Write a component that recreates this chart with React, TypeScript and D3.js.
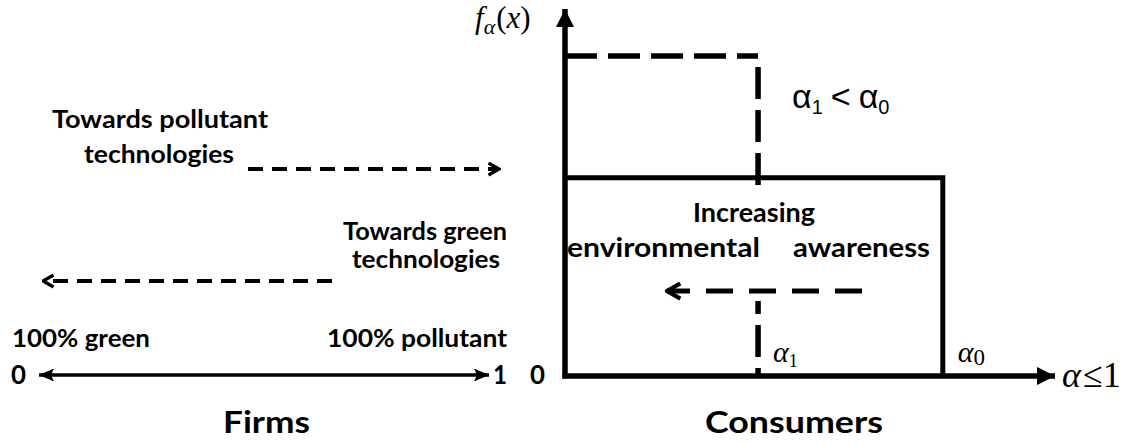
import { useEffect, useRef } from 'react';
import * as d3 from 'd3';

// consumer side: thresholds on the alpha axis and density heights
const alphaLabels = ['α0', 'α1'];
const alphaValues = [0.771, 0.394];
const densityValues = [0.54, 0.872];

// firm side: ends of the technology axis
const firmTicks = ['0', '1'];
const firmEndLabels = ['100% green', '100% pollutant'];

const SANS = 'Lato, "Open Sans", sans-serif';
const SERIF = '"Liberation Serif", "DejaVu Serif", serif';

function App() {
  const svgRef = useRef<SVGSVGElement>(null);

  useEffect(() => {
    if (!svgRef.current) return;
    const svg = d3.select(svgRef.current);
    svg.selectAll('*').remove();

    svg.attr('width', 1130).attr('height', 444);

    const x = d3.scaleLinear().domain([0, 1]).range([565, 1055]);
    const y = d3.scaleLinear().domain([0, 1]).range([376, 9]);
    const fx = d3.scaleLinear().domain([0, 1]).range([37, 491]);
    const line = d3.line<[number, number]>();

    // markers
    const defs = svg.append('defs');
    defs.append('marker')
      .attr('id', 'tri')
      .attr('viewBox', '0 0 10 10')
      .attr('refX', 10).attr('refY', 5)
      .attr('markerWidth', 18).attr('markerHeight', 18)
      .attr('markerUnits', 'userSpaceOnUse')
      .attr('orient', 'auto-start-reverse')
      .append('path').attr('d', 'M0,0 L10,5 L0,10 z').attr('fill', '#000');
    defs.append('marker')
      .attr('id', 'triSmall')
      .attr('viewBox', '0 0 10 10')
      .attr('refX', 10).attr('refY', 5)
      .attr('markerWidth', 15).attr('markerHeight', 13)
      .attr('markerUnits', 'userSpaceOnUse')
      .attr('orient', 'auto-start-reverse')
      .attr('preserveAspectRatio', 'none')
      .append('path').attr('d', 'M0,0 L10,5 L0,10 L2,5 z').attr('fill', '#000');
    const chevron = (id: string, size: number) => {
      defs.append('marker')
        .attr('id', id)
        .attr('viewBox', '0 0 10 10')
        .attr('refX', 9).attr('refY', 5)
        .attr('markerWidth', size).attr('markerHeight', size)
        .attr('markerUnits', 'userSpaceOnUse')
        .attr('orient', 'auto')
        .append('path').attr('d', 'M2,1 L9,5 L2,9')
        .attr('fill', 'none').attr('stroke', '#000').attr('stroke-width', 2.2);
    };
    chevron('chev', 15);
    chevron('chevBig', 19);

    const g = svg.append('g');

    // bold sans label fitted between x0 and x1
    const label = (txt: string, x0: number, x1: number, base: number, size: number) => {
      g.append('text')
        .attr('x', x0).attr('y', base)
        .attr('font-family', SANS).attr('font-weight', 700).attr('font-size', size)
        .attr('textLength', x1 - x0)
        .attr('lengthAdjust', 'spacingAndGlyphs')
        .text(txt);
    };

    // ---------- Firms ----------
    g.append('path')
      .attr('d', line([[fx(0) + 2, 375], [fx(1) - 2, 375]]))
      .attr('stroke', '#000').attr('stroke-width', 3.5)
      .attr('marker-start', 'url(#triSmall)')
      .attr('marker-end', 'url(#triSmall)');

    label(firmTicks[0], 11, 26, 384, 26);
    label(firmTicks[1], 493, 507, 384, 26);
    label(firmEndLabels[0], 12, 150, 347, 25);
    label(firmEndLabels[1], 327, 507, 347, 25);

    label('Towards pollutant', 52, 268, 128, 25);
    label('technologies', 84, 234, 163, 25);
    label('Towards green', 343, 507, 240, 25);
    label('technologies', 352, 500, 268, 25);

    g.append('path')
      .attr('d', line([[248, 169], [fx(1) + 8, 169]]))
      .attr('stroke', '#000').attr('stroke-width', 4)
      .attr('stroke-dasharray', '15 9')
      .attr('fill', 'none')
      .attr('marker-end', 'url(#chev)');
    g.append('path')
      .attr('d', line([[332, 281], [fx(0) + 6, 281]]))
      .attr('stroke', '#000').attr('stroke-width', 4)
      .attr('stroke-dasharray', '15 9')
      .attr('fill', 'none')
      .attr('marker-end', 'url(#chev)');

    label('Firms', 223, 310, 433, 31);

    // ---------- Consumers ----------
    const [a0, a1] = alphaValues;
    const [f0, f1] = densityValues;

    // alpha1 density (dashed)
    g.append('path')
      .attr('d', line([[x(0), y(f1)], [x(a1), y(f1)]]))
      .attr('fill', 'none').attr('stroke', '#000').attr('stroke-width', 5.5)
      .attr('stroke-dasharray', '32 11');
    g.append('path')
      .attr('d', line([[x(a1), y(f1)], [x(a1), y(0)]]))
      .attr('fill', 'none').attr('stroke', '#000').attr('stroke-width', 5.5)
      .attr('stroke-dasharray', '32 11')
      .attr('stroke-dashoffset', 32);

    // alpha0 density (solid)
    g.append('path')
      .attr('d', line([[x(0), y(f0)], [x(a0), y(f0)], [x(a0), y(0)]]))
      .attr('fill', 'none').attr('stroke', '#000').attr('stroke-width', 5);

    // axes
    g.append('path')
      .attr('d', line([[x(0), y(0) + 2.5], [x(0), y(1)]]))
      .attr('stroke', '#000').attr('stroke-width', 5.5)
      .attr('marker-end', 'url(#tri)');
    g.append('path')
      .attr('d', line([[x(0) - 2.5, y(0)], [x(1), y(0)]]))
      .attr('stroke', '#000').attr('stroke-width', 5.5)
      .attr('marker-end', 'url(#tri)');

    // white box behind the awareness text
    g.append('rect')
      .attr('x', 572).attr('y', 189)
      .attr('width', 362).attr('height', 112)
      .attr('fill', '#fff');

    // awareness arrow
    g.append('path')
      .attr('d', line([[862, 291], [667, 291]]))
      .attr('fill', 'none').attr('stroke', '#000').attr('stroke-width', 5)
      .attr('stroke-dasharray', '27 16')
      .attr('marker-end', 'url(#chevBig)');

    label('Increasing', 693, 815, 222, 27);
    label('environmental', 567, 760, 257, 27);
    label('awareness', 793, 930, 257, 27);

    label('0', 530, 545, 384, 26);

    // alpha labels
    alphaLabels.forEach((lab, i) => {
      const t = g.append('text')
        .attr('x', x(alphaValues[i]) + 15)
        .attr('y', 362)
        .attr('font-family', SERIF).attr('font-size', 30);
      t.append('tspan').attr('font-style', 'italic').text('α');
      t.append('tspan').attr('font-size', i === 0 ? 23 : 18)
        .attr('dy', i === 0 ? 3 : 5).text(lab.slice(1));
    });

    // alpha <= 1
    g.append('text')
      .attr('x', 1062).attr('y', 387)
      .attr('font-family', SERIF).attr('font-size', 36)
      .call(t => {
        t.append('tspan').attr('font-style', 'italic').text('α');
        t.append('tspan').attr('dx', 2).text('≤1');
      });

    // f_alpha(x)
    g.append('text')
      .attr('x', 475).attr('y', 28)
      .attr('font-family', SERIF).attr('font-size', 31)
      .call(t => {
        t.append('tspan').attr('font-style', 'italic').text('f');
        t.append('tspan').attr('font-style', 'italic').attr('font-size', 22).attr('dy', 6).text('α');
        t.append('tspan').attr('dy', -6).attr('dx', 1).text('(');
        t.append('tspan').attr('font-style', 'italic').text('x');
        t.append('tspan').text(')');
      });

    // alpha1 < alpha0
    g.append('text')
      .attr('x', 792).attr('y', 108)
      .attr('font-family', '"Liberation Sans", Arial, sans-serif').attr('font-size', 34)
      .call(t => {
        t.append('tspan').text('α');
        t.append('tspan').attr('font-size', 20).attr('dy', 6).text('1');
        t.append('tspan').attr('dy', -6).attr('dx', 8).text('<');
        t.append('tspan').attr('dx', 8).text('α');
        t.append('tspan').attr('font-size', 20).attr('dy', 6).text('0');
      });

    label('Consumers', 705, 883, 433, 31);
  }, []);

  return (
    <svg ref={svgRef} style={{ position: 'absolute', left: 0, top: 0, display: 'block' }}></svg>
  );
}

export default App;
